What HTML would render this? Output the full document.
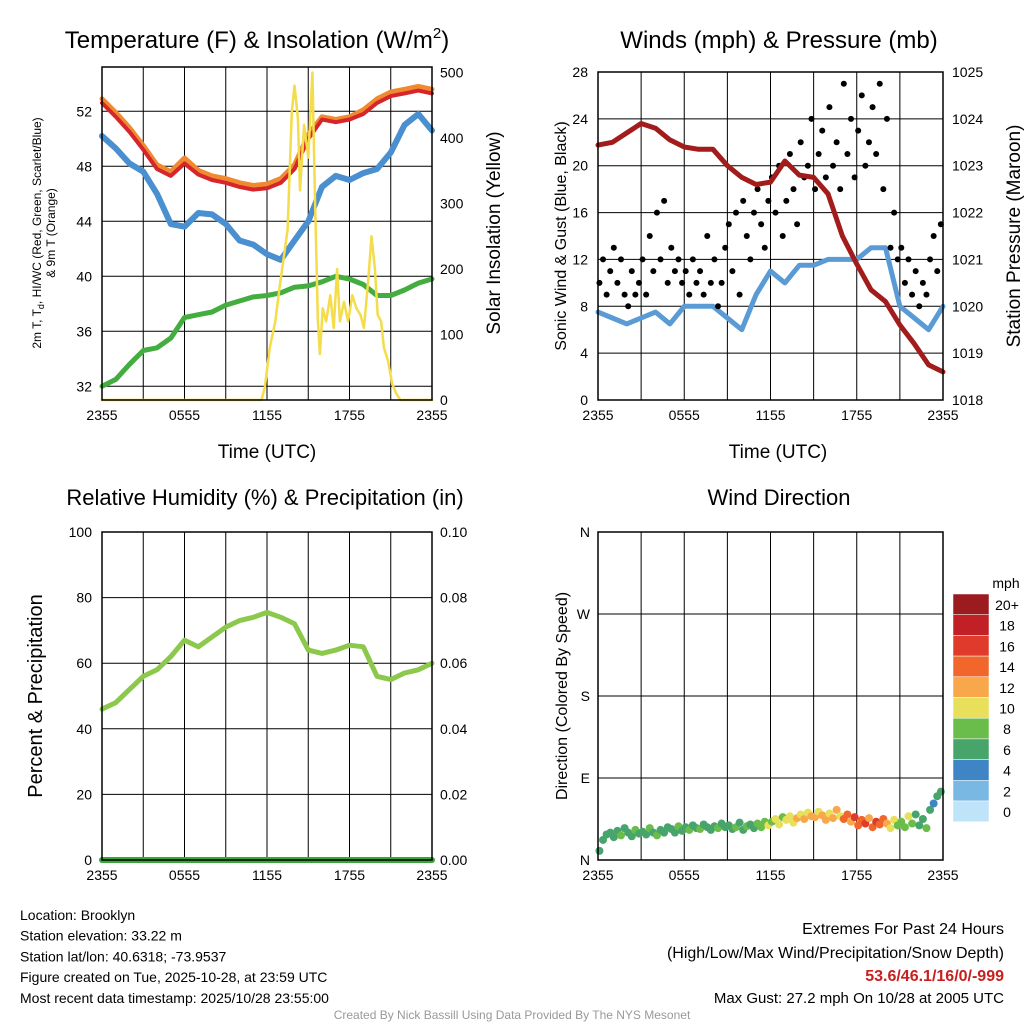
<!DOCTYPE html>
<html><head><meta charset="utf-8">
<style>
body{margin:0;background:#fff;}
svg text{font-family:"Liberation Sans",sans-serif;fill:#000;}
</style></head>
<body>
<svg id="c" width="1024" height="1024" xmlns="http://www.w3.org/2000/svg"></svg>
<script>
// ---------- DATA ----------
const hours = [0,1,2,3,4,5,6,7,8,9,10,11,12,13,14,15,16,17,18,19,20,21,22,23,24];
const xTickLabels = ["2355","0555","1155","1755","2355"];
const tempRed = [52.6,51.6,50.5,49.2,47.8,47.3,48.2,47.4,47.0,46.8,46.5,46.3,46.4,46.8,47.8,50.0,51.4,51.2,51.4,51.8,52.6,53.1,53.3,53.5,53.3];
const tempOrange = [52.9,51.9,50.8,49.5,48.1,47.6,48.6,47.7,47.3,47.1,46.8,46.6,46.7,47.1,48.1,50.3,51.6,51.4,51.6,52.1,52.9,53.4,53.6,53.8,53.6];
const tempBlue = [50.2,49.3,48.2,47.6,46.0,43.8,43.6,44.6,44.5,43.8,42.6,42.3,41.6,41.2,42.6,44.0,46.5,47.3,47.0,47.5,47.8,49.0,51.0,51.8,50.6];
const tempGreen = [32.0,32.5,33.6,34.6,34.8,35.5,37.0,37.2,37.4,37.9,38.2,38.5,38.6,38.8,39.2,39.3,39.6,40.0,39.8,39.4,38.6,38.6,39.0,39.5,39.8];
const solarHours = [0,11.6,11.85,12.2,12.6,12.9,13.5,13.8,14.0,14.25,14.4,14.7,15.0,15.3,15.5,15.7,15.85,16.05,16.3,16.6,16.85,17.1,17.3,17.6,17.9,18.2,18.5,18.8,19.05,19.35,19.6,19.85,20.05,20.3,20.5,20.8,21.1,21.4,21.7,24];
const solarValues = [0,0,20,80,120,170,260,440,480,430,320,420,370,500,300,120,70,140,120,160,110,200,120,150,120,160,140,130,110,180,250,200,130,120,80,60,25,10,0,0];
const pressure = [1023.44,1023.5,1023.7,1023.9,1023.8,1023.55,1023.4,1023.35,1023.35,1023.0,1022.75,1022.6,1022.65,1023.1,1022.8,1022.75,1022.4,1021.5,1020.9,1020.35,1020.1,1019.6,1019.2,1018.75,1018.6];
const windSpeed = [7.5,7,6.5,7,7.5,6.5,8,8,8,7,6,9,11,10,11.5,11.5,12,12,12,13,13,8,7,6,8];
const gusts = [10,12,9,11,13,10,12,9,8,11,9,10,12,9,14,11,16,12,17,10,13,11,12,10,11,9,12,10,11,9,14,10,12,8,10,13,15,11,16,9,17,14,12,16,18,15,13,17,19,16,20,14,17,21,18,15,22,19,20,24,18,21,23,19,25,20,22,18,27,21,24,19,23,26,20,22,25,21,27,18,24,13,16,12,13,10,12,9,11,8,10,9,12,14,11,15];
const rh = [46,48,52,56,58,62,67,65,68,71,73,74,75.5,74,72,64,63,64,65.5,65,56,55,57,58,60];
const precip = [0,0,0,0,0,0,0,0,0,0,0,0,0,0,0,0,0,0,0,0,0,0,0,0,0];
const windDir = [10,22,28,30,25,32,27,35,30,26,33,29,31,28,35,30,27,33,30,36,34,30,37,32,36,33,38,35,34,39,36,33,37,35,40,36,38,34,36,41,33,37,39,35,40,36,42,38,42,45,39,47,44,48,41,46,50,45,52,48,47,53,49,44,51,46,55,48,45,50,42,47,38,44,40,46,36,42,39,45,40,35,44,38,42,36,48,40,50,38,45,35,55,62,70,75];
const dirSpeed = [6,7,6,7,7,6,8,7,6,7,8,6,7,6,8,7,8,7,6,7,7,6,8,7,7,8,6,7,8,7,7,6,7,8,7,6,6,7,8,7,7,8,7,6,8,9,8,10,9,10,11,9,10,11,10,12,11,12,11,13,12,11,13,12,11,13,12,10,14,15,13,16,15,14,16,13,15,16,14,15,12,11,10,9,9,8,10,8,7,6,7,8,6,5,7,6];
const cbLabels = ["20+","18","16","14","12","10","8","6","4","2","0"];
const cbColors = ["#9b1b1e","#c12026","#e03a2d","#f0662b","#f8a84a","#e8e05a","#6bbd4b","#47a56c","#3f85c5","#7ab8e4","#bfe3f8"];

// ---------- HELPERS ----------
const NS="http://www.w3.org/2000/svg";
const svg=document.getElementById('c');
function mk(tag,attrs,parent){const e=document.createElementNS(NS,tag);for(const k in attrs)e.setAttribute(k,attrs[k]);(parent||svg).appendChild(e);return e;}
function txt(s,x,y,size,anchor,parent,extra){const t=mk('text',Object.assign({x:x,y:y,'font-size':size,'text-anchor':anchor||'middle'},extra||{}),parent);t.textContent=s;return t;}
function speedColor(v){let i=Math.min(10,Math.floor(v/2));return cbColors[10-i];}

function panel(name,x0,y0,x1,y1){
  const g=mk('g',{});
  
  
  return {g,x0,y0,x1,y1,xs:h=>x0+(x1-x0)*h/24};
}
function frame(p,hTicksY){
  for(let h=3;h<24;h+=3){const l=mk('line',{x1:p.xs(h),x2:p.xs(h),y1:p.y0,y2:p.y1,stroke:'#000','stroke-width':1},p.g);}
  hTicksY.forEach(y=>{const l=mk('line',{x1:p.x0,x2:p.x1,y1:y,y2:y,stroke:'#000','stroke-width':1},p.g);});
  xTickLabels.forEach((s,i)=>{const t=txt(s,p.xs(i*6),p.y1+20,14,'middle',p.g);});
}
function border(p){const r=mk('rect',{x:p.x0,y:p.y0,width:p.x1-p.x0,height:p.y1-p.y0,fill:'none',stroke:'#000','stroke-width':1.5},p.g);}
function line(p,xs,ys,color,w,name){
  let d='';xs.forEach((x,i)=>{d+=(i?'L':'M')+x.toFixed(1)+','+ys[i].toFixed(1);});
  const e=mk('path',{d:d,fill:'none',stroke:color,'stroke-width':w,'stroke-linejoin':'round','stroke-linecap':'round'},p.g);
  return e;
}

// ---------- PANEL 1: TEMPERATURE ----------
{
const p=panel('temperature-panel',102,67,432,400);
const yT=v=>400-(v-31)*13.75;
const yS=v=>400-v*0.655;
const tt=[32,36,40,44,48,52];
frame(p,tt.map(yT));
tt.forEach(v=>{const t=txt(String(v),92,yT(v)+5,14,'end',p.g);});
[0,100,200,300,400,500].forEach(v=>{const t=txt(String(v),440,yS(v)+5,14,'start',p.g);});
const hx=hours.map(p.xs);
line(p,hx,tempGreen.map(yT),'#43ad3f',5,'dewpoint-line');
line(p,hx,tempBlue.map(yT),'#4a8fcf',6,'windchill-line');
line(p,hx,tempOrange.map(yT),'#f08a30',5,'temp-9m-line');
line(p,hx,tempRed.map(yT),'#d7262b',4,'temp-2m-line');
line(p,solarHours.map(p.xs),solarValues.map(yS),'#f4dc4a',2.5,'solar-line');
border(p);
let t=txt('Temperature (F) & Insolation (W/m',257,48,24,'middle',p.g);
const ts=mk('tspan',{dy:-10,'font-size':15},t);ts.textContent='2';
const ts2=mk('tspan',{dy:10},t);ts2.textContent=')';

t=txt('Time (UTC)',267,458,19,'middle',p.g);
t=txt('2m T, T',0,0,12,'middle',p.g,{transform:'translate(41,233) rotate(-90)'});
let s=mk('tspan',{dy:3,'font-size':9},t);s.textContent='d';
s=mk('tspan',{dy:-3},t);s.textContent=', HI/WC (Red, Green, Scarlet/Blue)';

t=txt('& 9m T (Orange)',0,0,12,'middle',p.g,{transform:'translate(55,233) rotate(-90)'});

t=txt('Solar Insolation (Yellow)',0,0,19,'middle',p.g,{transform:'translate(500,233) rotate(-90)'});

}

// ---------- PANEL 2: WINDS ----------
{
const p=panel('winds-panel',598,72,943,400);
const yW=v=>400-v*(328/28);
const yP=v=>400-(v-1018)*(328/7);
const tw=[0,4,8,12,16,20,24,28];
frame(p,tw.map(yW));
tw.forEach(v=>{const t=txt(String(v),588,yW(v)+5,14,'end',p.g);});
[1018,1019,1020,1021,1022,1023,1024,1025].forEach(v=>{const t=txt(String(v),952,yP(v)+5,14,'start',p.g);});
line(p,hours.map(p.xs),windSpeed.map(yW),'#5b9bd5',5,'sonic-wind-line');
gusts.forEach((v,i)=>{const c=mk('circle',{cx:p.xs(i*0.25+0.1),cy:yW(v),r:3,fill:'#000'},p.g);
});
line(p,hours.map(p.xs),pressure.map(yP),'#a31c1c',5,'pressure-line');
border(p);
let t=txt('Winds (mph) & Pressure (mb)',779,48,24,'middle',p.g);
t=txt('Time (UTC)',778,458,19,'middle',p.g);
t=txt('Sonic Wind & Gust (Blue, Black)',0,0,16,'middle',p.g,{transform:'translate(566,236) rotate(-90)'});
t=txt('Station Pressure (Maroon)',0,0,19,'middle',p.g,{transform:'translate(1020,236) rotate(-90)'});
}

// ---------- PANEL 3: RH ----------
{
const p=panel('humidity-panel',102,532,432,860);
const yR=v=>860-v*3.28;
const yPr=v=>860-v*3280;
const tr=[0,20,40,60,80,100];
frame(p,tr.map(yR));
tr.forEach(v=>{const t=txt(String(v),92,yR(v)+5,14,'end',p.g);});
["0.00","0.02","0.04","0.06","0.08","0.10"].forEach((s,i)=>{const t=txt(s,440,yR(i*20)+5,14,'start',p.g);});
line(p,hours.map(p.xs),rh.map(yR),'#8cc84b',5,'rh-line');
line(p,hours.map(p.xs),precip.map(yPr),'#3aa63a',6,'precip-line');
border(p);
let t=txt('Relative Humidity (%) & Precipitation (in)',265,505,22,'middle',p.g);
t=txt('Percent & Precipitation',0,0,20,'middle',p.g,{transform:'translate(42,696) rotate(-90)'});
}

// ---------- PANEL 4: WIND DIRECTION ----------
{
const p=panel('wind-direction-panel',598,532,943,860);
const yD=v=>860-v*(328/360);
const dl=["N","E","S","W","N"];
frame(p,[90,180,270].map(yD));
dl.forEach((s,i)=>{const t=txt(s,590,yD(i*90)+5,14,'end',p.g);});
windDir.forEach((v,i)=>{const c=mk('circle',{cx:p.xs(i*0.25+0.1),cy:yD(v),r:4,fill:speedColor(dirSpeed[i])},p.g);
});
border(p);
let t=txt('Wind Direction',779,505,22,'middle',p.g);
t=txt('Direction (Colored By Speed)',0,0,16,'middle',p.g,{transform:'translate(567,696) rotate(-90)'});
const cb=mk('g',{});
t=txt('mph',1006,588,14,'middle',cb);
cbColors.forEach((c,i)=>{const r=mk('rect',{x:953,y:594+i*20.7,width:36,height:20.7,fill:c,stroke:'#fff','stroke-width':0.5},cb);

const l=txt(cbLabels[i],1007,594+i*20.7+16,14,'middle',cb);});
}

// ---------- FOOTER ----------
{
const g=mk('g',{});
["Location: Brooklyn","Station elevation: 33.22 m","Station lat/lon: 40.6318; -73.9537","Figure created on Tue, 2025-10-28, at 23:59 UTC","Most recent data timestamp: 2025/10/28 23:55:00"].forEach((s,i)=>{
const t=txt(s,20,920+i*20.7,14,'start',g);});
const g2=mk('g',{});
let t=txt('Extremes For Past 24 Hours',1004,934,16,'end',g2);
t=txt('(High/Low/Max Wind/Precipitation/Snow Depth)',1004,958,16,'end',g2);
t=txt('53.6/46.1/16/0/-999',1004,981,16,'end',g2,{'font-weight':'bold',style:'fill:#c8201f'});
t=txt('Max Gust: 27.2 mph On 10/28 at 2005 UTC',1004,1003,15,'end',g2);
t=txt('Created By Nick Bassill Using Data Provided By The NYS Mesonet',512,1019,12,'middle',null,{style:'fill:#999'});
}
</script>
</body></html>
